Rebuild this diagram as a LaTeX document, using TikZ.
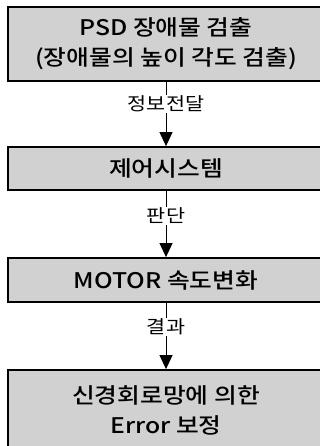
\documentclass[tikz,border=0pt]{standalone}
\usepackage{fontspec}
\setmainfont{Noto Sans CJK KR}
\newfontfamily\boxfont[FakeStretch=1.15]{Noto Sans CJK KR Medium}
\newfontfamily\lblfont[FakeStretch=1.15]{Noto Sans CJK KR}
\usetikzlibrary{arrows.meta}
\begin{document}
\begin{tikzpicture}[x=1pt,y=-1pt,
  box/.style={draw=black, line width=1.8pt, fill=black!18, minimum width=316pt, inner sep=0pt, align=center, font=\boxfont\fontsize{21.5}{30}\selectfont},
  lbl/.style={fill=white, inner sep=1pt, font=\lblfont\fontsize{18}{20}\selectfont},
  arr/.style={line width=1pt, -{Triangle[width=13pt,length=14pt]}}]
\useasboundingbox (0,0) rectangle (320,446);
\clip (0,0) rectangle (320,446);
\node[box, minimum height=74pt] (b1) at (166,44) {PSD 장애물 검출\\(장애물의 높이 각도 검출)};
\node[box, minimum height=43pt] (b2) at (166,168.5) {제어시스템};
\node[box, minimum height=44pt] (b3) at (166,280) {MOTOR 속도변화};
\node[box, minimum height=80pt] (b4) at (166,410) {신경회로망에 의한\\Error 보정};
\draw[arr] (b1) -- (b2);
\draw[arr] (b2) -- (b3);
\draw[arr] (b3) -- (b4);
\node[lbl] (l1) at (166,104) {정보전달};
\node[lbl] (l2) at (166,216) {판단};
\node[lbl] (l3) at (166,327) {결과};
\end{tikzpicture}
\end{document}
